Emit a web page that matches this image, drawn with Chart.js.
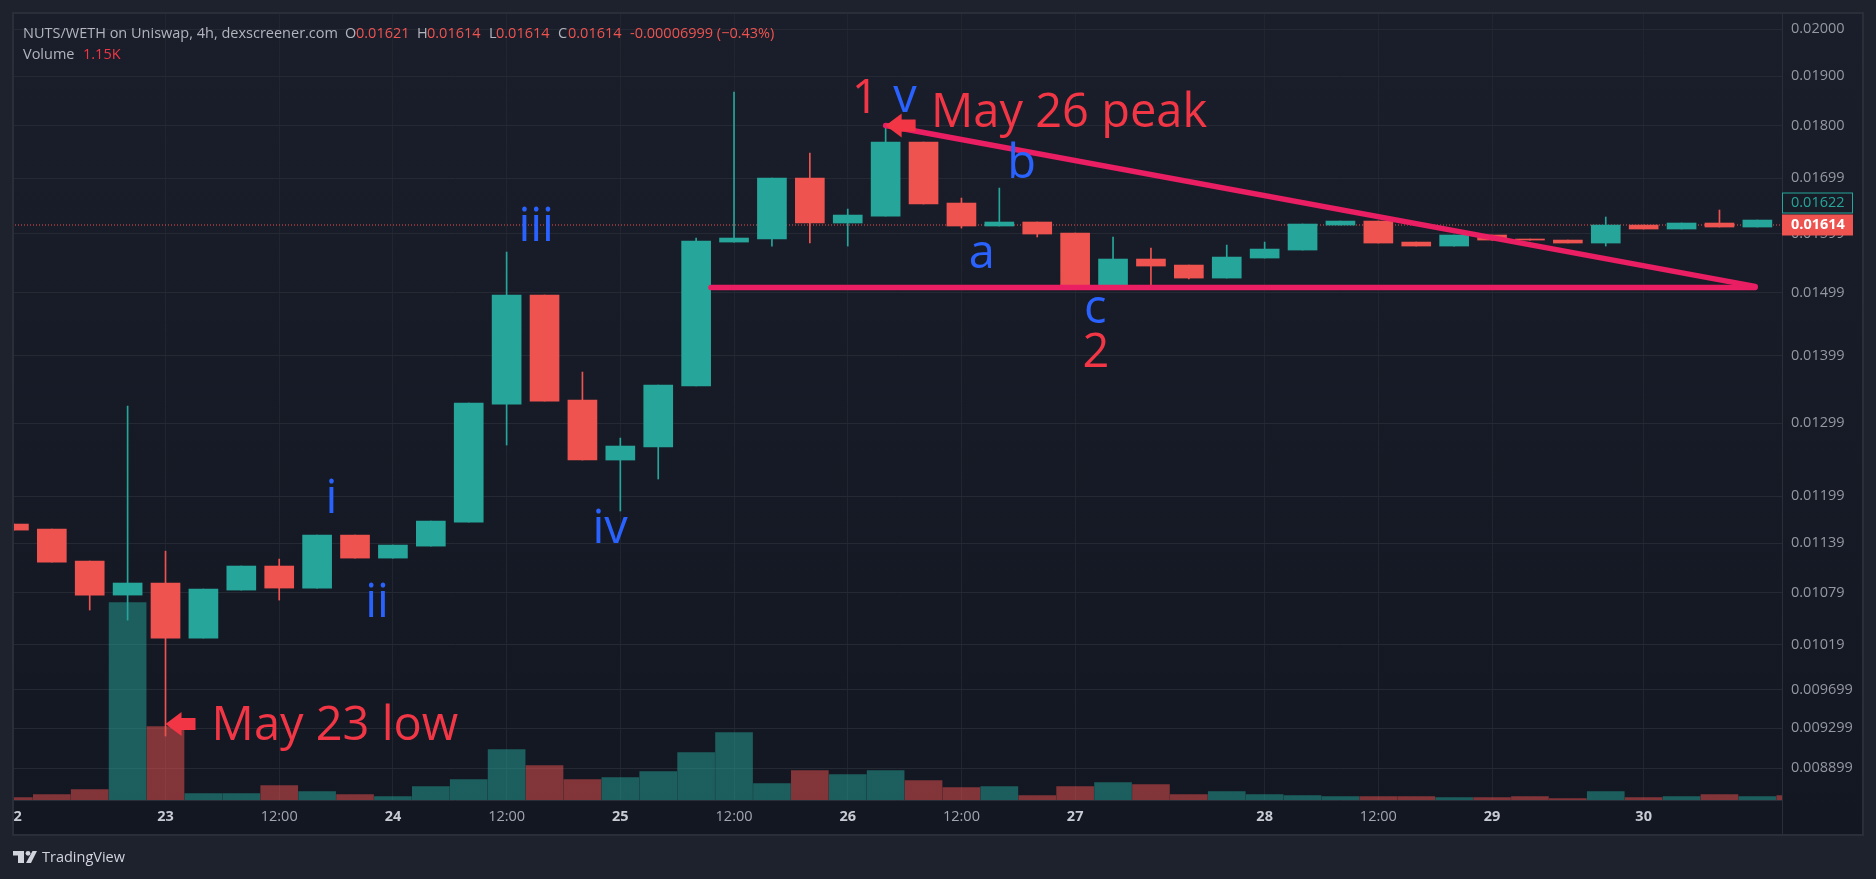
<!DOCTYPE html>
<html>
<head>
<meta charset="utf-8">
<title>NUTS/WETH</title>
<script src="https://cdn.jsdelivr.net/npm/chart.js"></script>
<style>
  html, body { margin: 0; padding: 0; background: #1e222d; overflow: hidden; }
  canvas { display: block; }
</style>
</head>
<body>
<canvas id="myChart" width="1876" height="879"></canvas>
<script>
// 4h candles
const opens = [0.011630, 0.011566, 0.011168, 0.010759, 0.010902, 0.010264, 0.010818, 0.011107, 0.010842, 0.011490,
  0.011204, 0.011352, 0.011655, 0.013264, 0.014947, 0.013323, 0.012475, 0.012654, 0.013529, 0.015841,
  0.015894, 0.016992, 0.016175, 0.016299, 0.017676, 0.016533, 0.016122, 0.016193, 0.015999, 0.015112,
  0.015549, 0.015447, 0.015228, 0.015566, 0.015703, 0.016139, 0.016210, 0.015841, 0.015772, 0.015964,
  0.015894, 0.015876, 0.015824, 0.016139, 0.016069, 0.016175, 0.016104];
const closes = [0.011553, 0.011155, 0.010759, 0.010902, 0.010264, 0.010830, 0.011107, 0.010842, 0.011490, 0.011204,
  0.011365, 0.011668, 0.013279, 0.014947, 0.013308, 0.012475, 0.012668, 0.013543, 0.015859, 0.015911,
  0.016992, 0.016175, 0.016317, 0.017676, 0.016515, 0.016122, 0.016193, 0.015981, 0.015079, 0.015549,
  0.015430, 0.015228, 0.015583, 0.015720, 0.016157, 0.016210, 0.015824, 0.015772, 0.015964, 0.015876,
  0.015876, 0.015824, 0.016139, 0.016069, 0.016175, 0.016104, 0.016228];
const highs = [0.011630, 0.011566, 0.011168, 0.013235, 0.011290, 0.010830, 0.011107, 0.011192, 0.011490, 0.011490,
  0.011365, 0.011668, 0.013279, 0.015669, 0.014947, 0.013738, 0.012779, 0.013543, 0.015911, 0.018672,
  0.016992, 0.017464, 0.016425, 0.018008, 0.017676, 0.016624, 0.016807, 0.016193, 0.015999, 0.015929,
  0.015738, 0.015447, 0.015789, 0.015841, 0.016157, 0.016210, 0.016210, 0.015841, 0.015964, 0.015964,
  0.015894, 0.015876, 0.016282, 0.016139, 0.016175, 0.016407, 0.016228];
const lows = [0.011553, 0.011155, 0.010584, 0.010468, 0.009219, 0.010264, 0.010818, 0.010700, 0.010842, 0.011204,
  0.011204, 0.011352, 0.011655, 0.012682, 0.013308, 0.012475, 0.011797, 0.012218, 0.013529, 0.015841,
  0.015772, 0.015824, 0.015772, 0.016299, 0.016515, 0.016086, 0.016122, 0.015929, 0.015079, 0.015112,
  0.015079, 0.015212, 0.015228, 0.015566, 0.015703, 0.016139, 0.015824, 0.015772, 0.015772, 0.015876,
  0.015876, 0.015824, 0.015772, 0.016069, 0.016069, 0.016104, 0.016104];
// volume in thousands, one more bar than candles (last one runs under the price axis)
const volumes = [0.62, 1.42, 2.76, 52.7, 19.6, 1.69, 1.69, 3.83, 2.23, 1.42,
  0.89, 3.56, 5.43, 13.44, 9.17, 5.43, 5.96, 7.57, 12.64, 17.98,
  4.36, 7.83, 6.76, 7.83, 5.16, 3.30, 3.56, 1.16, 3.56, 4.63,
  4.09, 1.42, 2.23, 1.42, 1.16, 0.89, 0.89, 0.89, 0.62, 0.62,
  0.89, 0.36, 2.23, 0.62, 0.89, 1.42, 0.89, 1.15];
const volumeUp = [false, false, false, true, false, true, true, false, true, false,
  true, true, true, true, false, false, true, true, true, true,
  true, false, true, true, false, false, true, false, false, true,
  false, false, true, true, true, true, false, false, true, false,
  false, false, true, false, true, false, true, false];

const priceTicks = [0.02, 0.019, 0.018, 0.01699, 0.01599, 0.01499, 0.01399, 0.01299, 0.01199, 0.01139, 0.01079, 0.01019, 0.009699, 0.009299, 0.008899];
const priceLabels = ['0.02000', '0.01900', '0.01800', '0.01699', '0.01599', '0.01499', '0.01399', '0.01299', '0.01199', '0.01139', '0.01079', '0.01019', '0.009699', '0.009299', '0.008899'];
const timeTicks = [0, 4, 7, 10, 13, 16, 19, 22, 25, 28, 33, 36, 39, 43];
const timeLabels = ['  2', '23', '12:00', '24', '12:00', '25', '12:00', '26', '12:00', '27', '28', '12:00', '29', '30'];

const lastPrice = 0.01614;
const prePrice = 0.01622;
const trendTop = [{x: 23.0, y: 0.018}, {x: 45.94, y: 0.01509}];
const trendFlat = [{x: 18.39, y: 0.01507}, {x: 45.94, y: 0.01507}];

const RED = '#f23645';
const BLUE = '#2962ff';
const notes = [
  {text: 'May 23 low', x: 8.47, y: 0.009178, color: RED},
  {text: 'May 26 peak', x: 27.84, y: 0.017969, color: RED},
  {text: '1', x: 22.46, y: 0.018247, color: RED},
  {text: '2', x: 28.55, y: 0.013813, color: RED},
  {text: 'v', x: 23.51, y: 0.018267, color: BLUE},
  {text: 'b', x: 26.59, y: 0.016992, color: BLUE},
  {text: 'a', x: 25.54, y: 0.015396, color: BLUE},
  {text: 'c', x: 28.53, y: 0.014495, color: BLUE},
  {text: 'iii', x: 13.78, y: 0.015859, color: BLUE},
  {text: 'i', x: 8.38, y: 0.011771, color: BLUE},
  {text: 'ii', x: 9.58, y: 0.010503, color: BLUE},
  {text: 'iv', x: 15.73, y: 0.011390, color: BLUE}
];
const arrows = [{x: 4, y: 0.009342}, {x: 23, y: 0.018}];

const UP = '#26a69a';
const DOWN = '#ef5350';
const FONT = '"Open Sans", sans-serif';

const isUp = i => closes[i] >= opens[i];
const candleColor = c => isUp(c.dataIndex) ? UP : DOWN;

// frame around the chart, drawn under everything
const framePlugin = {
  id: 'frame',
  beforeDraw(chart) {
    const ctx = chart.ctx;
    const a = chart.chartArea;
    ctx.save();
    ctx.fillStyle = '#1e222d';
    ctx.fillRect(0, 0, 1876, 879);
    const g = ctx.createLinearGradient(0, 13, 0, 835);
    g.addColorStop(0, '#1a1e2a');
    g.addColorStop(1, '#131722');
    ctx.fillStyle = g;
    ctx.fillRect(a.left, a.top, 1863 - a.left, 835 - a.top);
    ctx.restore();
  },
  afterDatasetsDraw(chart) {
    const ctx = chart.ctx;
    const a = chart.chartArea;
    ctx.save();
    ctx.strokeStyle = '#2a2e39';
    ctx.lineWidth = 2;
    ctx.strokeRect(a.left, a.top, 1863 - a.left, 835 - a.top);
    ctx.lineWidth = 1;
    ctx.beginPath();
    ctx.moveTo(a.right + 0.5, a.top);
    ctx.lineTo(a.right + 0.5, 835);
    ctx.moveTo(a.left, a.bottom + 0.5);
    ctx.lineTo(a.right, a.bottom + 0.5);
    ctx.stroke();
    ctx.restore();
  }
};

// arrows, wave labels, header, price tags
const notesPlugin = {
  id: 'notes',
  afterDraw(chart) {
    const ctx = chart.ctx;
    const xs = chart.scales.x;
    const ys = chart.scales.y;
    ctx.save();

    arrows.forEach(p => {
      const x = xs.getPixelForValue(p.x);
      const y = ys.getPixelForValue(p.y);
      ctx.fillStyle = RED;
      ctx.beginPath();
      ctx.moveTo(x, y);
      ctx.lineTo(x + 16, y - 12);
      ctx.lineTo(x + 16, y - 6);
      ctx.lineTo(x + 30, y - 6);
      ctx.lineTo(x + 30, y + 6);
      ctx.lineTo(x + 16, y + 6);
      ctx.lineTo(x + 16, y + 12);
      ctx.closePath();
      ctx.fill();
    });

    ctx.textAlign = 'center';
    ctx.textBaseline = 'alphabetic';
    ctx.font = '47px ' + FONT;
    notes.forEach(n => {
      ctx.fillStyle = n.color;
      ctx.fillText(n.text, xs.getPixelForValue(n.x), ys.getPixelForValue(n.y));
    });

    // header
    ctx.textAlign = 'left';
    ctx.textBaseline = 'middle';
    ctx.font = '14.5px ' + FONT;
    const head = [
      ['NUTS/WETH on Uniswap, 4h, dexscreener.com', 23, '#b2b5be'],
      ['O', 345, '#b2b5be'], ['0.01621', 356, DOWN],
      ['H', 417, '#b2b5be'], ['0.01614', 427, DOWN],
      ['L', 489, '#b2b5be'], ['0.01614', 496, DOWN],
      ['C', 558, '#b2b5be'], ['0.01614', 568, DOWN],
      ['-0.00006999 (\u22120.43%)', 630, DOWN]
    ];
    head.forEach(h => {
      ctx.fillStyle = h[2];
      ctx.fillText(h[0], h[1], 34);
    });
    ctx.fillStyle = '#b2b5be';
    ctx.fillText('Volume', 23, 55);
    ctx.fillStyle = RED;
    ctx.fillText('1.15K', 83, 55);

    // last price tags on the axis, the older price sits on top of it
    const tagY = ys.getPixelForValue(lastPrice);
    ctx.fillStyle = DOWN;
    ctx.fillRect(1782, tagY - 10.5, 71, 21);
    ctx.fillStyle = '#ffffff';
    ctx.font = 'bold 14.5px ' + FONT;
    ctx.fillText(lastPrice.toFixed(5), 1791, tagY);
    const preY = tagY - 22;
    ctx.fillStyle = '#181c27';
    ctx.fillRect(1782, preY - 10.5, 71, 21);
    ctx.strokeStyle = UP;
    ctx.lineWidth = 1;
    ctx.strokeRect(1782.5, preY - 10, 70, 20);
    ctx.fillStyle = UP;
    ctx.font = '14.5px ' + FONT;
    ctx.fillText(prePrice.toFixed(5), 1791, preY);

    // TradingView mark in the footer
    ctx.fillStyle = '#d1d4dc';
    ctx.fillRect(13, 851, 11, 4.5);
    ctx.fillRect(18, 851, 6, 12);
    ctx.beginPath();
    ctx.arc(28, 853.3, 2.4, 0, Math.PI * 2);
    ctx.fill();
    ctx.beginPath();
    ctx.moveTo(32.5, 851);
    ctx.lineTo(37, 851);
    ctx.lineTo(31, 863);
    ctx.lineTo(26, 863);
    ctx.closePath();
    ctx.fill();
    ctx.font = '14.5px ' + FONT;
    ctx.fillText('TradingView', 42, 858);

    ctx.restore();
  }
};

const ctx1 = document.getElementById('myChart').getContext('2d');
const myChart = new Chart(ctx1, {
  data: {
    datasets: [
      {
        type: 'line',
        data: trendTop,
        borderColor: '#e91e63',
        borderWidth: 5.5,
        borderCapStyle: 'round',
        pointRadius: 0,
        order: 0
      },
      {
        type: 'line',
        data: trendFlat,
        borderColor: '#e91e63',
        borderWidth: 5.5,
        borderCapStyle: 'round',
        pointRadius: 0,
        order: 0
      },
      {
        type: 'bar',
        data: opens.map((o, i) => ({x: i, y: [o, closes[i]]})),
        backgroundColor: candleColor,
        barThickness: 29,
        minBarLength: 1,
        grouped: false,
        order: 1
      },
      {
        type: 'bar',
        data: highs.map((h, i) => ({x: i, y: [lows[i], h]})),
        backgroundColor: candleColor,
        barThickness: 1,
        grouped: false,
        order: 2
      },
      {
        type: 'line',
        data: [{x: -1, y: lastPrice}, {x: 48, y: lastPrice}],
        borderColor: DOWN,
        borderWidth: 1,
        borderDash: [1, 2],
        pointRadius: 0,
        order: 3
      },
      {
        type: 'bar',
        data: volumes.map((v, i) => ({x: i, y: v})),
        yAxisID: 'vol',
        backgroundColor: c => volumeUp[c.dataIndex] ? 'rgba(38, 166, 154, 0.5)' : 'rgba(239, 83, 80, 0.5)',
        barThickness: 37,
        grouped: false,
        order: 4
      }
    ]
  },
  options: {
    responsive: false,
    animation: false,
    devicePixelRatio: 1,
    layout: { padding: { left: 13, top: 13, right: 13, bottom: 44 } },
    plugins: { legend: { display: false }, tooltip: { enabled: false } },
    scales: {
      x: {
        type: 'linear',
        offset: false,
        min: -0.024,
        max: 46.65,
        afterBuildTicks: s => { s.ticks = timeTicks.map(v => ({value: v})); },
        // the label margins would push the plot edge off its place
        afterFit: s => { s.height = 35; s.paddingLeft = 0; s.paddingRight = 0; },
        grid: { color: '#212530', drawTicks: false, offset: false },
        border: { display: false },
        ticks: {
          autoSkip: false,
          maxRotation: 0,
          padding: 8,
          callback: (v, i) => timeLabels[i],
          color: c => timeLabels[c.index] === '12:00' ? '#a3a6af' : '#c8cbd3',
          font: c => ({ family: FONT, size: 14.5, weight: timeLabels[c.index] === '12:00' ? 'normal' : 'bold' })
        }
      },
      y: {
        type: 'logarithmic',
        position: 'right',
        min: 0.008595,
        max: 0.020361,
        bounds: 'data',
        afterBuildTicks: s => { s.ticks = priceTicks.map(v => ({value: v})); },
        afterFit: s => { s.width = 81; s.paddingTop = 0; s.paddingBottom = 0; },
        grid: { color: '#252934', drawTicks: false },
        border: { display: false },
        ticks: {
          autoSkip: false,
          padding: 9,
          crossAlign: 'near',
          callback: (v, i) => priceLabels[i],
          color: '#9598a1',
          font: { family: FONT, size: 14.5 }
        }
      },
      vol: {
        type: 'linear',
        display: false,
        min: 0,
        max: 210
      }
    }
  },
  plugins: [framePlugin, notesPlugin]
});
</script>
</body>
</html>
